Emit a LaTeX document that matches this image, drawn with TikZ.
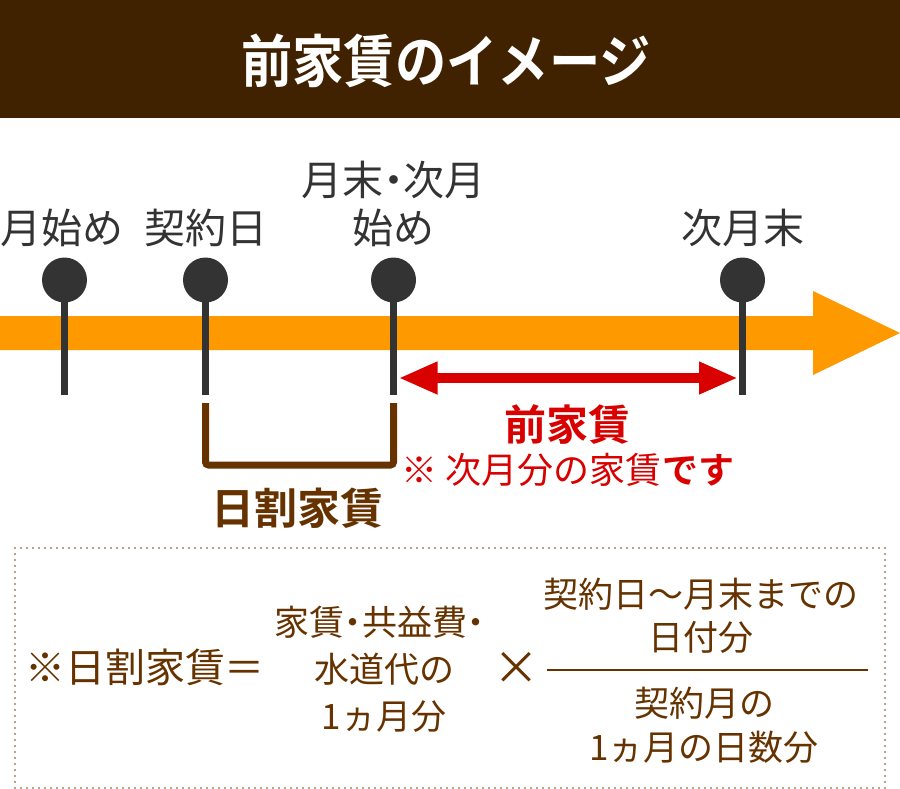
\documentclass[tikz,border=0pt]{standalone}
\usepackage{fontspec}
\setmainfont{Noto Sans CJK JP}[BoldFont={Noto Sans CJK JP Bold}]
\usetikzlibrary{arrows.meta, positioning, calc}
\definecolor{titlebrown}{HTML}{402100}
\definecolor{lineorange}{HTML}{FF9900}
\definecolor{pingray}{HTML}{333333}
\definecolor{arrowred}{HTML}{D90000}
\definecolor{textbrown}{HTML}{663300}
\definecolor{dotbrown}{HTML}{A08466}
\newcommand{\fsz}[2]{\fontsize{#1}{#2}\selectfont}
\newcommand{\ndot}{\hspace{-0.25em}・\hspace{-0.25em}}

\begin{document}
\begin{tikzpicture}[x=1pt,y=-1pt,every node/.style={inner sep=0pt,outer sep=0pt}]
\tikzstyle{pin}=[circle,fill=pingray,minimum size=45pt]
\tikzstyle{stem}=[draw=pingray,line width=7.5pt]
\tikzstyle{lbl}=[text=pingray,font=\fsz{41}{48},align=center]
\tikzstyle{redarrow}=[draw=arrowred,line width=10pt,{Triangle[length=39pt,width=30pt]}-{Triangle[length=39pt,width=30pt]}]
\tikzstyle{bracket}=[draw=textbrown,line width=7pt,rounded corners=3pt]
\tikzstyle{dotbox}=[draw=dotbrown,line width=2.4pt,line cap=round,dash pattern=on 0pt off 6pt]
\tikzstyle{formula}=[text=textbrown,font=\fsz{35}{47},align=center]

\useasboundingbox (0,0) rectangle (900,789);

% title bar
\fill[titlebrown] (0,0) rectangle (900,118);
\node (title) [text=white,font=\bfseries\fsz{57}{60}] at (446,61) {\scalebox{0.9}[1]{前家賃のイメージ}};

% timeline
\fill[lineorange] (0,316) -- (813,316) -- (813,291) -- (900,333) -- (813,375) -- (813,350) -- (0,350) -- cycle;

\coordinate (t1) at (64.5,280);  \coordinate (b1) at (64.5,395);
\coordinate (t2) at (205.5,280); \coordinate (b2) at (205.5,395);
\coordinate (t3) at (393.5,280); \coordinate (b3) at (393.5,395);
\coordinate (t4) at (742.5,280); \coordinate (b4) at (742.5,395);

\draw[stem] (t1) -- (b1);
\draw[stem] (t2) -- (b2);
\draw[stem] (t3) -- (b3);
\draw[stem] (t4) -- (b4);

\node (p1) [pin] at (t1) {};
\node (p2) [pin] at (t2) {};
\node (p3) [pin] at (t3) {};
\node (p4) [pin] at (t4) {};

\node (l1) [lbl,above=11pt of p1,xshift=-2pt] {月始め};
\node (l2) [lbl,above=11pt of p2] {契約日};
\node (l3) [lbl,above=11pt of p3] {月末\ndot 次月\\始め};
\node (l4) [lbl,above=11pt of p4] {次月末};

% next month rent
\draw[redarrow] ($(b3)+(5,-17)$) -- ($(b4)+(-4.5,-17)$);
\node (mae) [text=arrowred,font=\bfseries\fsz{42}{48}] at (567,425) {前家賃};
\node (note) [text=arrowred,font=\fsz{36}{40},anchor=north] at ($(mae.south)+(1,8)$) {※ 次月分の家賃\textbf{です}};

% prorated rent
\draw[bracket] ($(b2)+(0,8)$) |- ($(b3)+(0,70)$) -- ($(b3)+(0,8)$);
\node (hiwari) [text=textbrown,font=\bfseries\fsz{43}{48}] at (297,508) {日割家賃};

% formula box
\draw[dotbox] (15,548) rectangle (885,788);
\node (fl) [formula,font=\fsz{40}{47}] at (145,667) {※日割家賃＝};
\node (fa) [formula] at (384,669) {家賃\ndot 共益費\ndot\\水道代の\\1ヵ月分};
\node (times) [formula,font=\fsz{46}{47}] at (516,668) {×};
\coordinate (f1) at (547,670);
\coordinate (f2) at (868,670);
\draw[textbrown,line width=2pt] (f1) -- (f2);
\node (num) [formula,font=\fsz{35}{43}] at (701,615.5) {契約日〜月末までの\\日付分};
\node (den) [formula,font=\fsz{35}{44}] at (704,725) {契約月の\\1ヵ月の日数分};
\end{tikzpicture}
\end{document}
